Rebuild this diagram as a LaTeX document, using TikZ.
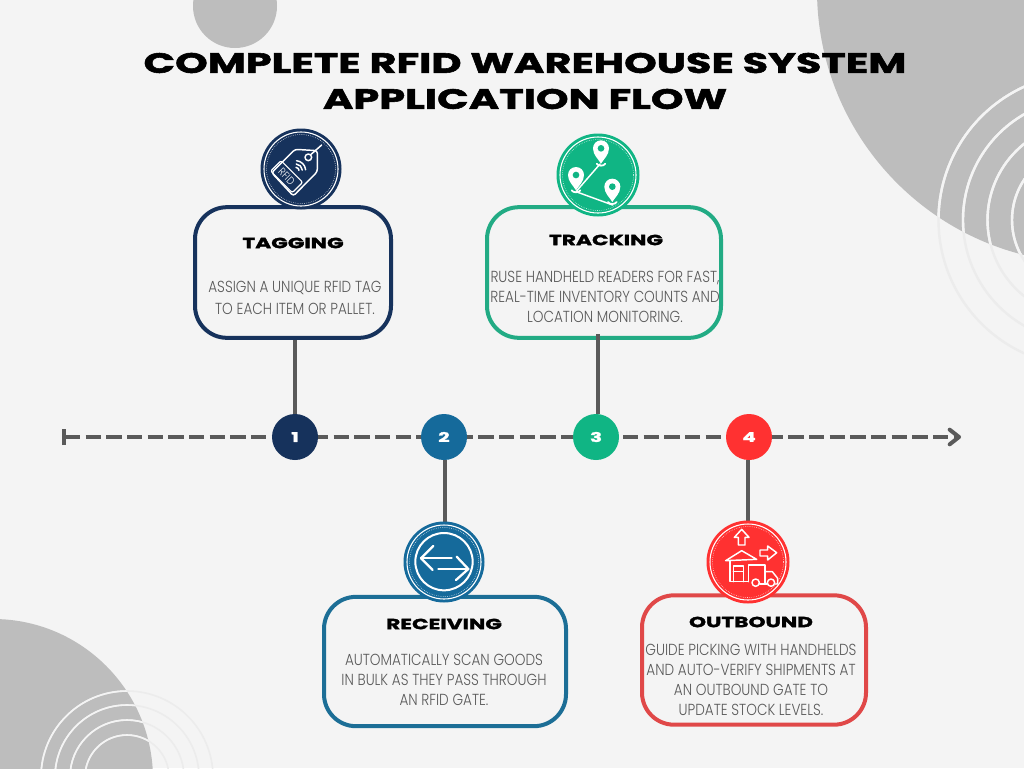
\documentclass[tikz,border=0pt]{standalone}
\usepackage{fontspec}
\usetikzlibrary{arrows.meta}
\newfontfamily\headfont[FakeStretch=1.48,BoldFeatures={FakeBold=2}]{Poppins}
\newfontfamily\bodyfont[FakeStretch=0.85]{Poppins Light}
\definecolor{paper}{HTML}{F4F4F4}
\definecolor{blob}{HTML}{BDBDBD}
\definecolor{faint}{HTML}{ECECEC}
\definecolor{axisgray}{HTML}{5A5A5A}
\definecolor{navy}{HTML}{16325C}
\definecolor{ocean}{HTML}{156A9B}
\definecolor{jade}{HTML}{10B584}
\definecolor{scarlet}{HTML}{FF3131}
\definecolor{jadeline}{HTML}{22AB84}
\definecolor{oceanline}{HTML}{1C6E96}
\definecolor{scarletline}{HTML}{E04848}
\tikzset{
	cardbox/.style={draw, line width=3pt, rounded corners=24pt, fill=paper},
	numdot/.style={circle, minimum size=34.5pt, inner sep=0pt, text=white, font=\headfont\bfseries\fontsize{10}{10}\selectfont},
	cardtitle/.style={font=\headfont\bfseries\fontsize{11}{12}\selectfont, text=black},
	cardtext/.style={font=\bodyfont\fontsize{12}{15}\selectfont, text=axisgray, align=center},
	stem/.style={axisgray, line width=3pt},
	iconline/.style={white, line width=1.1pt, line cap=round, line join=round}
}
\begin{document}
\begin{tikzpicture}[x=0.75pt, y=-0.75pt]
	\useasboundingbox (0,0) rectangle (1024,768);
	\clip (0,0) rectangle (1024,768);
	\fill[paper] (0,0) rectangle (1024,768);

	% corner shapes
	\fill[blob] (235,6) circle[radius=42];
	\fill[blob] (1090,-10) circle[radius=273];
	\fill[blob] (-7,779) circle[radius=160];
	\foreach \r in {146.5,122,97.5,73}{
		\draw[faint, line width=1.8pt] (1085,220) circle[radius=\r];}
	\foreach \r in {86,72,57,42}{
		\draw[faint, line width=1.2pt] (127,777) circle[radius=\r];}
	\begin{scope}
		\clip (1090,-10) circle[radius=273];
		\foreach \r in {146.5,122,97.5,73}{
			\draw[paper, line width=1.8pt] (1085,220) circle[radius=\r];}
	\end{scope}
	\begin{scope}
		\clip (-7,779) circle[radius=160];
		\foreach \r in {86,72,57,42}{
			\draw[paper, line width=1.2pt] (127,777) circle[radius=\r];}
	\end{scope}

	\node[font=\headfont\bfseries\fontsize{21}{27}\selectfont, text=black, align=center] (heading) at (525,81)
		{COMPLETE RFID WAREHOUSE SYSTEM\\APPLICATION FLOW};

	% time line
	\coordinate (axisstart) at (62,437);
	\coordinate (axisend) at (961,437);
	\draw[axisgray, line width=3pt, dash pattern=on 11.5pt off 4pt, {Bar[width=12pt,length=0pt]}-{Straight Barb[length=7pt,width=11pt,round]}] (axisstart) -- (axisend);

	\foreach \i/\col/\x in {1/navy/295, 2/ocean/444, 3/jade/596, 4/scarlet/749}{
		\node[numdot, fill=\col] (dot\i) at (\x,437) {\i};}

	% cards
	\foreach \i/\col/\x/\y/\w/\h in {1/navy/293/272.5/147/98, 2/oceanline/445/661.5/181.5/97, 3/jadeline/604/272.5/175.5/98, 4/scarletline/754/660/168/97}{
		\node[cardbox, draw=\col, minimum width=\w pt, minimum height=\h pt] (card\i) at (\x,\y) {};}

	\draw[stem] (dot1.north) -- (dot1.north |- card1.south);
	\draw[stem] (dot2.south) ++(1,0) -- ++(0,70);
	\draw[stem] (dot3.north) ++(2,0) -- ++(0,-80);
	\draw[stem] (dot4.south) ++(-1,0) -- ++(0,70);

	\node[cardtitle] (tagtitle) at (293,243) {TAGGING};
	\node[cardtitle] (rectitle) at (444,624) {RECEIVING};
	\node[cardtitle] (tractitle) at (606,240) {TRACKING};
	\node[cardtitle] (outtitle) at (751,622) {OUTBOUND};

	\node[cardtext, font=\bodyfont\fontsize{12}{17}\selectfont] (tagtext) at (295,298)
		{ASSIGN A UNIQUE RFID TAG\\TO EACH ITEM OR PALLET.};
	\node[cardtext] (rectext) at (444,680)
		{AUTOMATICALLY SCAN GOODS\\IN BULK AS THEY PASS THROUGH\\AN RFID GATE.};
	\node[cardtext] (tractext) at (605,297)
		{RUSE HANDHELD READERS FOR FAST,\\REAL-TIME INVENTORY COUNTS AND\\LOCATION MONITORING.};
	\node[cardtext] (outtext) at (751,680)
		{GUIDE PICKING WITH HANDHELDS\\AND AUTO-VERIFY SHIPMENTS AT\\AN OUTBOUND GATE TO\\UPDATE STOCK LEVELS.};

	% icon discs
	\foreach \col/\x/\y/\r in {navy/301/169/40.5, jade/598/175/41.5, ocean/444/562/40.5, scarlet/748/562/41.5}{
		\fill[\col] (\x,\y) circle[radius=\r];
		\draw[white, line width=0.8pt] (\x,\y) circle[radius=\r-3.5];
		\draw[white, line width=0.4pt, densely dotted] (\x,\y) circle[radius=\r-6];}

	% tag icon
	\begin{scope}[shift={(180,120)}, scale=1/3]
		\draw[iconline, rounded corners=2pt] (345,88) -- (275,158) -- (340,228) -- (412,155) -- (412,92) -- cycle;
		\draw[iconline] (385,112) circle[radius=10];
		\draw[iconline] (392,104) -- (425,75);
		\node[draw=white, line width=0.9pt, rounded corners=1.5pt, rotate=-45, minimum width=23pt, minimum height=11pt, inner sep=0pt, text=white, font=\bodyfont\fontsize{8}{8}\selectfont] (rfidmark) at (320,170) {RFID};
		\foreach \r in {10,20,30}{
			\draw[iconline] (347,152) ++(-85:\r) arc[start angle=-85, end angle=-5, radius=\r];}
	\end{scope}

	% pin icon
	\begin{scope}[shift={(480,120)}, scale=1/3]
		\draw[iconline] (360,132) -- (288,215) -- (398,255);
		\foreach \x/\y in {363/85, 288/165, 397/200}{
			\fill[white] (\x-24,\y) arc[start angle=180, end angle=360, radius=24] .. controls (\x+24,\y+20) and (\x+8,\y+32) .. (\x,\y+46) .. controls (\x-8,\y+32) and (\x-24,\y+20) .. (\x-24,\y) -- cycle;
			\fill[jade] (\x,\y) circle[radius=10];
			\draw[white, line width=1.3pt, line cap=round] (\x-13,\y+46) .. controls (\x-8,\y+54) and (\x+8,\y+54) .. (\x+13,\y+46);}
	\end{scope}

	% arrows icon
	\begin{scope}[shift={(320,510)}, scale=1/3]
		\draw[white, line width=1.5pt] (372,155) circle[radius=86];
		\draw[iconline, line width=1.7pt] (395,145) -- (303,145);
		\draw[iconline, line width=1.7pt] (340,108) -- (303,145) -- (338,180);
		\draw[iconline, line width=1.7pt] (355,177) -- (445,177);
		\draw[iconline, line width=1.7pt] (410,140) -- (445,177) -- (408,210);
	\end{scope}

	% outbound icon
	\begin{scope}[shift={(635,510)}, scale=1/3]
		\draw[iconline] (320,58) -- (342,82) -- (330,82) -- (330,105) -- (310,105) -- (310,82) -- (298,82) -- cycle;
		\draw[iconline] (425,128) -- (398,108) -- (398,120) -- (375,120) -- (375,138) -- (398,138) -- (398,150) -- cycle;
		\draw[iconline] (272,152) -- (320,122) -- (365,148) -- (272,152);
		\draw[iconline] (285,152) -- (285,215) -- (340,215);
		\draw[iconline] (295,215) -- (295,168) -- (325,168) -- (325,215);
		\draw[iconline] (295,185) -- (325,185);
		\draw[iconline] (340,215) -- (340,165) -- (390,165) -- (390,222);
		\draw[iconline] (390,185) -- (412,185) -- (428,205) -- (428,222) -- (420,222);
		\draw[iconline] (374,222) -- (397,222);
		\draw[iconline] (362,218) circle[radius=11];
		\draw[iconline] (408,218) circle[radius=11];
	\end{scope}
\end{tikzpicture}
\end{document}
